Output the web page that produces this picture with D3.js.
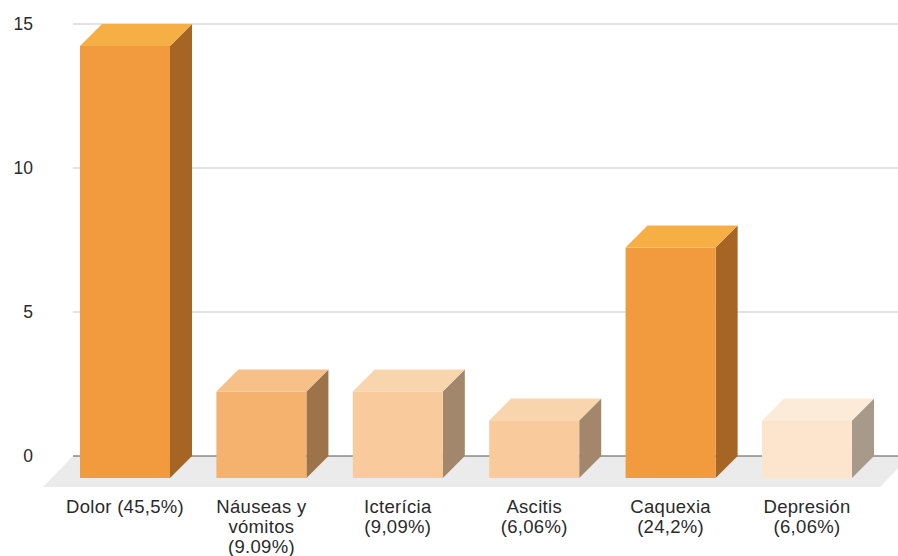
<!DOCTYPE html>
<html><head><meta charset="utf-8">
<script src="https://cdn.jsdelivr.net/npm/d3@7"></script>
<style>body{margin:0;background:#fff}svg{display:block}text{font-family:"Liberation Sans",Arial,sans-serif}</style>
</head><body>
<svg id="c" width="898" height="556"></svg>
<script>
const categories = ["Dolor (45,5%)", "Náuseas y|vómitos|(9.09%)", "Icterícia|(9,09%)", "Ascitis|(6,06%)", "Caquexia|(24,2%)", "Depresión|(6,06%)"];
const values = [15, 3, 3, 2, 8, 2];
const yTicks = [0, 5, 10, 15];
const frontColors = ["#F19A3E", "#F5B16E", "#F8CA9C", "#F8CA9C", "#F19A3E", "#FCE5CC"];
const topColors   = ["#F5AF45", "#F7C089", "#F9D5AE", "#F9D5AE", "#F5AF45", "#FCEBD9"];
const sideColors  = ["#A66425", "#9D7349", "#A3876C", "#A3876C", "#A66425", "#A89A8A"];

const svg = d3.select("#c");
const D = 22;             // depth offset
const plotL = 73, plotR = 898;
const y = d3.scaleLinear().domain([0, 15]).range([456, 24]);
const x = d3.scaleBand().domain(d3.range(categories.length)).range([56.8, 875.2]).paddingInner(0.34).paddingOuter(0.17);
const bw = x.bandwidth();

// floor
const y0 = y(0);
svg.append("polygon")
  .attr("points", [[plotL, y0], [plotR + 12, y0], [plotR - 18, y0 + 31], [plotL - 30, y0 + 31]].map(p => p.join(",")).join(" "))
  .attr("fill", "#ebebeb");

// gridlines
svg.selectAll(".grid").data(yTicks.filter(t => t > 0)).join("line")
  .attr("x1", plotL).attr("x2", plotR)
  .attr("y1", d => y(d)).attr("y2", d => y(d))
  .attr("stroke", "#e2e2e2").attr("stroke-width", 2);
svg.append("line").attr("x1", plotL).attr("x2", plotR).attr("y1", y0).attr("y2", y0)
  .attr("stroke", "#555").attr("stroke-width", 1.2);

// tick labels
svg.selectAll(".yt").data(yTicks).join("text")
  .attr("x", 33).attr("y", d => y(d)).attr("dy", "0.35em")
  .attr("text-anchor", "end").attr("font-size", 17.5).attr("fill", "#2a2a2a")
  .text(d => d);

// bars
const g = svg.selectAll(".bar").data(values).join("g");
g.each(function(v, i) {
  const s = d3.select(this);
  const fx = x(i), yt = y(v);
  s.append("polygon").attr("fill", sideColors[i])
    .attr("points", [[fx + bw, yt + D], [fx + bw + D, yt], [fx + bw + D, y0], [fx + bw, y0 + D]].map(p => p.join(",")).join(" "));
  s.append("polygon").attr("fill", topColors[i])
    .attr("points", [[fx, yt + D], [fx + D, yt], [fx + bw + D, yt], [fx + bw, yt + D]].map(p => p.join(",")).join(" "));
  s.append("rect").attr("fill", frontColors[i])
    .attr("x", fx).attr("y", yt + D).attr("width", bw).attr("height", y0 - yt);
});

// category labels
svg.selectAll(".xl").data(categories).join("text")
  .attr("text-anchor", "middle").attr("font-size", 18.5).attr("letter-spacing", 0.3).attr("fill", "#2a2a2a")
  .attr("transform", (d, i) => `translate(${x(i) + bw / 2},513)`)
  .each(function(d) {
    d3.select(this).selectAll("tspan").data(d.split("|")).join("tspan")
      .attr("x", 0).attr("dy", (t, j) => j === 0 ? 0 : 20).text(t => t);
  });
</script>
</body></html>
